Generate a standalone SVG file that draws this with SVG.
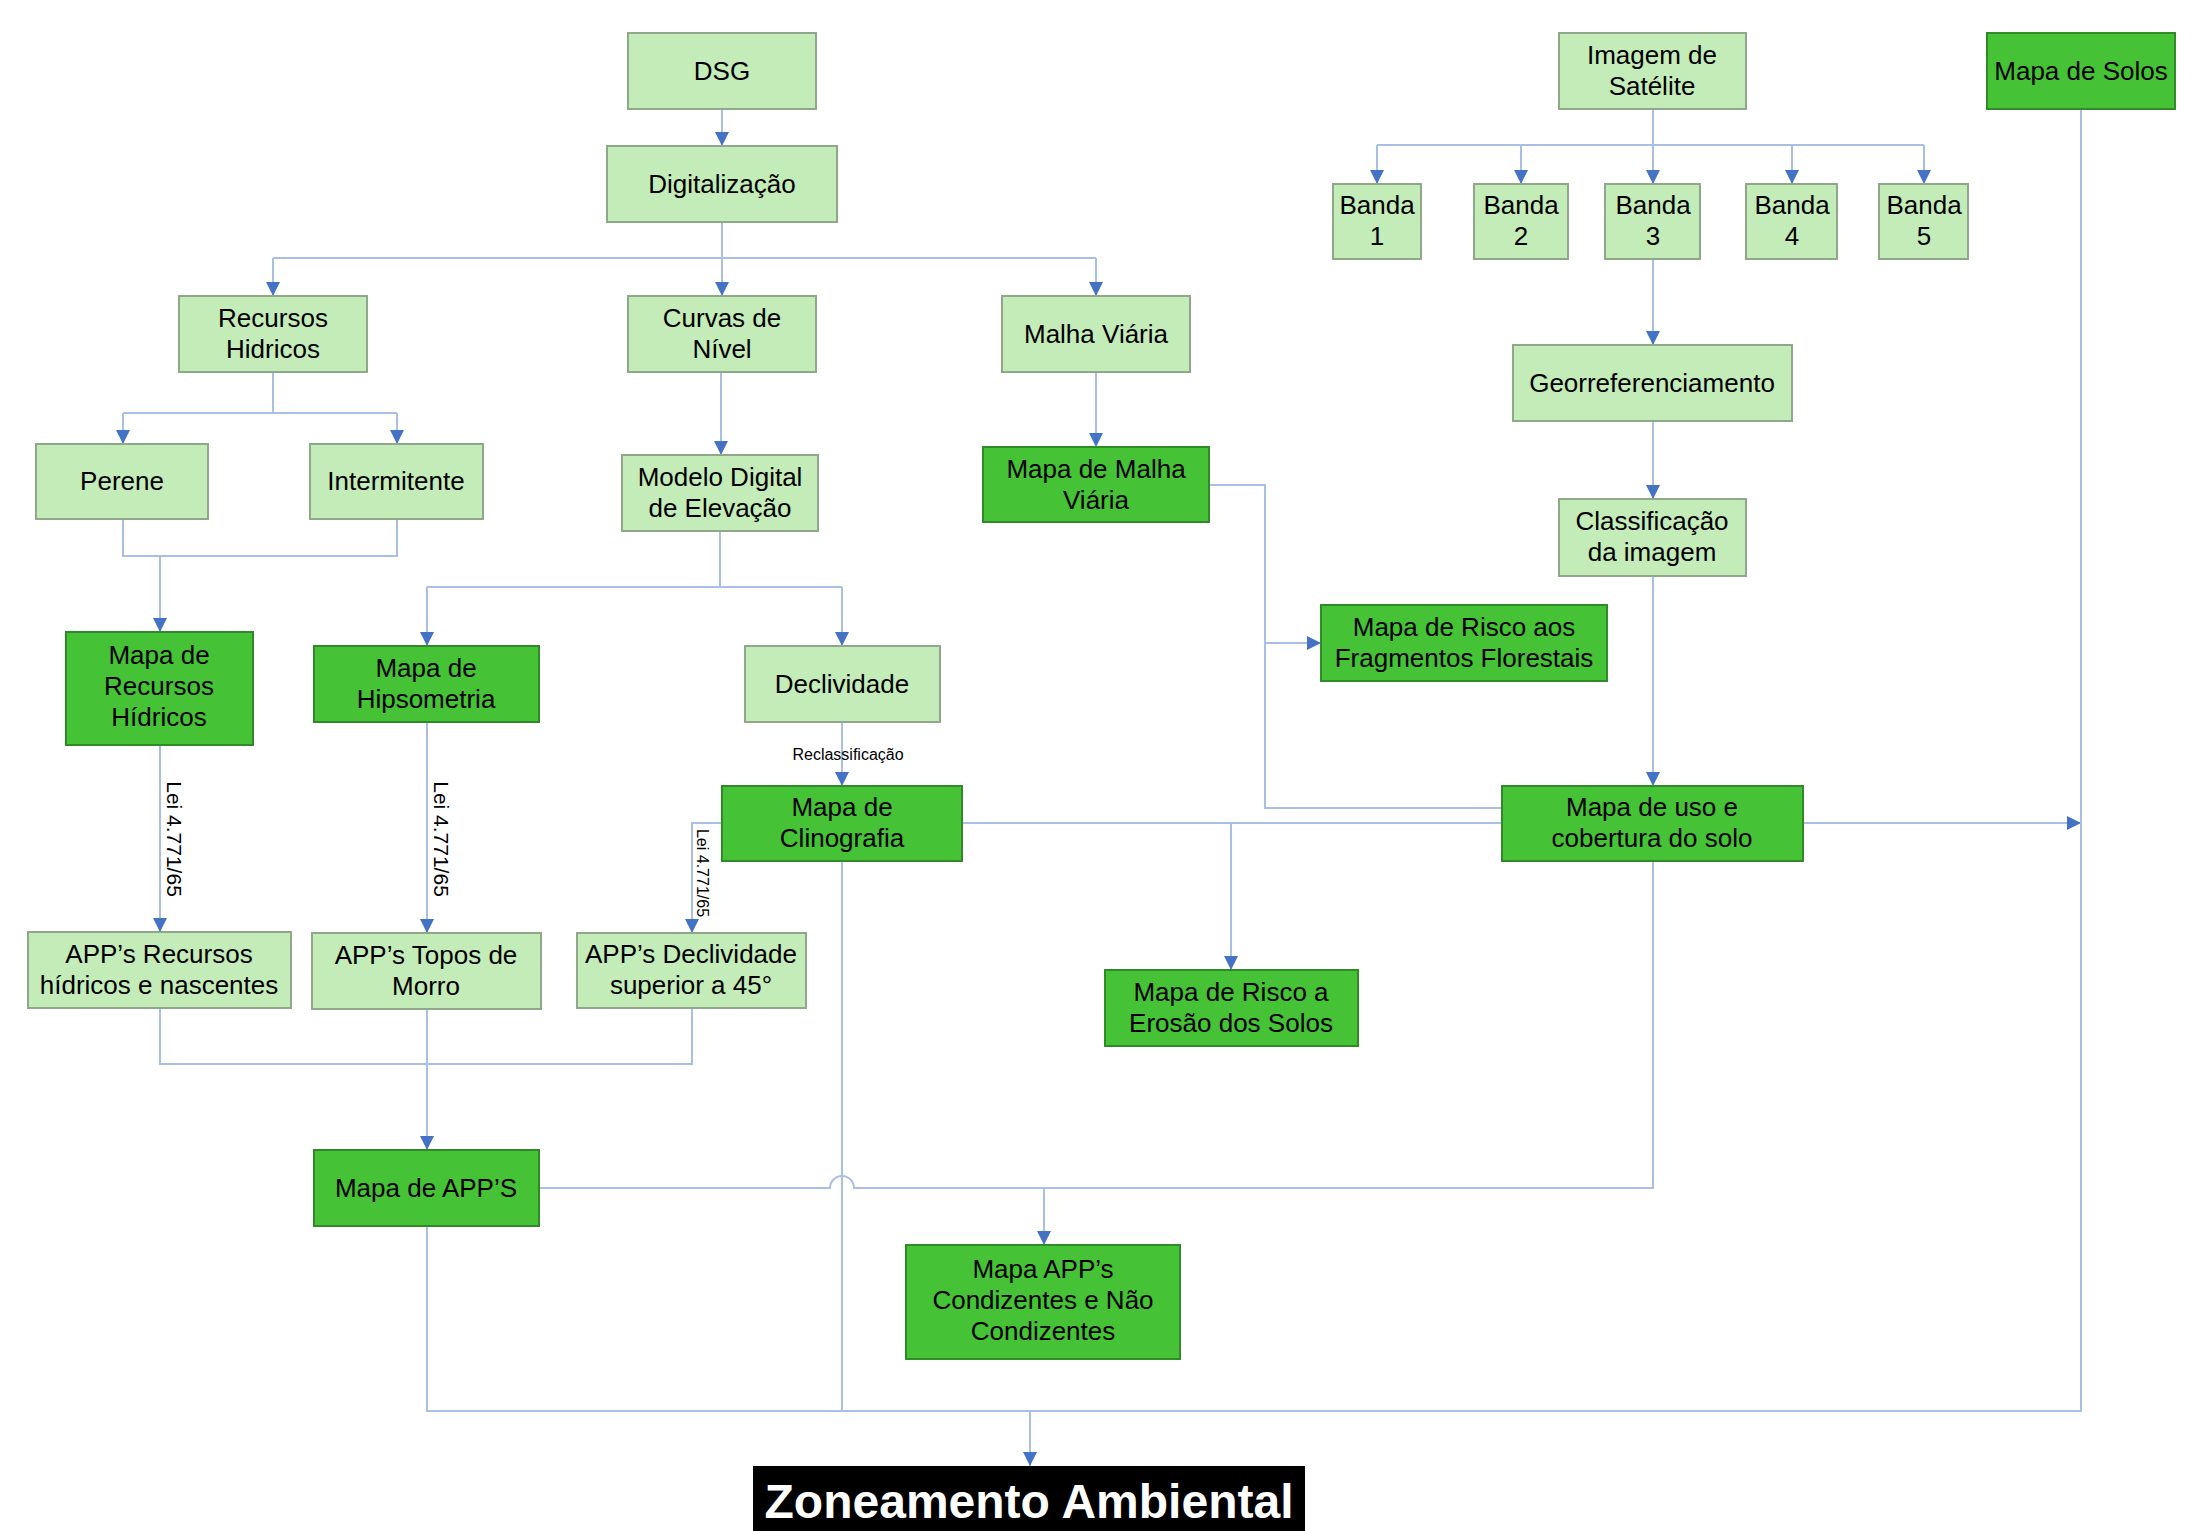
<svg xmlns="http://www.w3.org/2000/svg" width="2200" height="1531" viewBox="0 0 2200 1531">
<defs>
<style>
.l rect{fill:#c3ecb8;stroke:#8fa88a;stroke-width:2}
.d rect{fill:#45c235;stroke:#2f8a27;stroke-width:2}
text{font-family:"Liberation Sans",Arial,sans-serif;font-size:26px;fill:#000;text-anchor:middle}
.c path{fill:none;stroke:#a9bfe3;stroke-width:2}
.c .a{marker-end:url(#ah)}
.lab{font-size:21px}
.sm{font-size:16px}
</style>
<marker id="ah" viewBox="0 0 14 14" refX="14" refY="7" markerWidth="14" markerHeight="14" markerUnits="userSpaceOnUse" orient="auto"><path d="M0,0 L14,7 L0,14 z" fill="#4472c4"/></marker>
</defs>
<rect width="2200" height="1531" fill="#ffffff"/>

<g id="connectors" class="c">
<path class="a" d="M722,109 V146"/>
<path d="M722,222 V258 M273,258 H1096"/>
<path class="a" d="M273,258 V296"/>
<path class="a" d="M722,258 V296"/>
<path class="a" d="M1096,258 V296"/>
<path d="M273,372 V413 M123,413 H397"/>
<path class="a" d="M123,413 V444"/>
<path class="a" d="M397,413 V444"/>
<path d="M123,519 V556 H397 V519"/>
<path class="a" d="M160,556 V632"/>
<path class="a" d="M721,372 V455"/>
<path d="M720,531 V587 M427,587 H842"/>
<path class="a" d="M427,587 V646"/>
<path class="a" d="M842,587 V646"/>
<path class="a" d="M842,722 V786"/>
<path class="a" d="M160,745 V932"/>
<path class="a" d="M427,722 V933"/>
<path class="a" d="M722,823 H692 V933"/>
<path d="M160,1008 V1064 H692 V1008"/>
<path class="a" d="M427,1009 V1150"/>
<path class="a" d="M1096,372 V447"/>
<path d="M1209,485 H1265 V808 H1502"/>
<path class="a" d="M1265,643 H1321"/>
<path d="M1653,109 V145 M1377,145 H1924"/>
<path class="a" d="M1377,145 V184"/>
<path class="a" d="M1521,145 V184"/>
<path class="a" d="M1653,145 V184"/>
<path class="a" d="M1792,145 V184"/>
<path class="a" d="M1924,145 V184"/>
<path class="a" d="M1653,259 V345"/>
<path class="a" d="M1653,421 V499"/>
<path class="a" d="M1653,576 V786"/>
<path d="M962,823 H1502"/>
<path class="a" d="M1231,823 V970"/>
<path class="a" d="M1803,823 H2081"/>
<path d="M1653,861 V1188 H854 A12,12 0 0 0 830,1188 H539"/>
<path class="a" d="M1044,1188 V1245"/>
<path d="M842,861 V1411"/>
<path d="M427,1226 V1411 H2081 V109"/>
<path class="a" d="M1030,1411 V1466"/>
</g>

<g id="labels">
<text class="sm" x="848" y="760">Reclassificação</text>
<text class="lab" transform="translate(167,839) rotate(90)">Lei 4.771/65</text>
<text class="lab" transform="translate(434,839) rotate(90)">Lei 4.771/65</text>
<text class="sm" transform="translate(697,873) rotate(90)">Lei 4.771/65</text>
</g>

<g id="dsg" class="l"><rect x="628" y="33" width="188" height="76"/><text x="722" y="80">DSG</text></g>
<g id="digitalizacao" class="l"><rect x="607" y="146" width="230" height="76"/><text x="722" y="193">Digitalização</text></g>
<g id="recursos-hidricos" class="l"><rect x="179" y="296" width="188" height="76"/><text x="273" y="327">Recursos</text><text x="273" y="358">Hidricos</text></g>
<g id="curvas-nivel" class="l"><rect x="628" y="296" width="188" height="76"/><text x="722" y="327">Curvas de</text><text x="722" y="358">Nível</text></g>
<g id="malha-viaria" class="l"><rect x="1002" y="296" width="188" height="76"/><text x="1096" y="343">Malha Viária</text></g>
<g id="perene" class="l"><rect x="36" y="444" width="172" height="75"/><text x="122" y="490">Perene</text></g>
<g id="intermitente" class="l"><rect x="310" y="444" width="173" height="75"/><text x="396" y="490">Intermitente</text></g>
<g id="modelo-digital" class="l"><rect x="622" y="455" width="196" height="76"/><text x="720" y="486">Modelo Digital</text><text x="720" y="517">de Elevação</text></g>
<g id="mapa-malha-viaria" class="d"><rect x="983" y="447" width="226" height="75"/><text x="1096" y="478">Mapa de Malha</text><text x="1096" y="509">Viária</text></g>
<g id="imagem-satelite" class="l"><rect x="1559" y="33" width="187" height="76"/><text x="1652" y="64">Imagem de</text><text x="1652" y="95">Satélite</text></g>
<g id="mapa-solos" class="d"><rect x="1987" y="33" width="188" height="76"/><text x="2081" y="80">Mapa de Solos</text></g>
<g id="banda1" class="l"><rect x="1333" y="184" width="88" height="75"/><text x="1377" y="214">Banda</text><text x="1377" y="245">1</text></g>
<g id="banda2" class="l"><rect x="1474" y="184" width="94" height="75"/><text x="1521" y="214">Banda</text><text x="1521" y="245">2</text></g>
<g id="banda3" class="l"><rect x="1605" y="184" width="95" height="75"/><text x="1653" y="214">Banda</text><text x="1653" y="245">3</text></g>
<g id="banda4" class="l"><rect x="1746" y="184" width="91" height="75"/><text x="1792" y="214">Banda</text><text x="1792" y="245">4</text></g>
<g id="banda5" class="l"><rect x="1879" y="184" width="89" height="75"/><text x="1924" y="214">Banda</text><text x="1924" y="245">5</text></g>
<g id="georreferenciamento" class="l"><rect x="1513" y="345" width="279" height="76"/><text x="1652" y="392">Georreferenciamento</text></g>
<g id="classificacao" class="l"><rect x="1559" y="499" width="187" height="77"/><text x="1652" y="530">Classificação</text><text x="1652" y="561">da imagem</text></g>
<g id="risco-fragmentos" class="d"><rect x="1321" y="605" width="286" height="76"/><text x="1464" y="636">Mapa de Risco aos</text><text x="1464" y="667">Fragmentos Florestais</text></g>
<g id="mapa-recursos-hidricos" class="d"><rect x="66" y="632" width="187" height="113"/><text x="159" y="664">Mapa de</text><text x="159" y="695">Recursos</text><text x="159" y="726">Hídricos</text></g>
<g id="mapa-hipsometria" class="d"><rect x="314" y="646" width="225" height="76"/><text x="426" y="677">Mapa de</text><text x="426" y="708">Hipsometria</text></g>
<g id="declividade" class="l"><rect x="745" y="646" width="195" height="76"/><text x="842" y="693">Declividade</text></g>
<g id="mapa-clinografia" class="d"><rect x="722" y="786" width="240" height="75"/><text x="842" y="816">Mapa de</text><text x="842" y="847">Clinografia</text></g>
<g id="mapa-uso-solo" class="d"><rect x="1502" y="786" width="301" height="75"/><text x="1652" y="816">Mapa de uso e</text><text x="1652" y="847">cobertura do solo</text></g>
<g id="risco-erosao" class="d"><rect x="1105" y="970" width="253" height="76"/><text x="1231" y="1001">Mapa de Risco a</text><text x="1231" y="1032">Erosão dos Solos</text></g>
<g id="app-recursos" class="l"><rect x="28" y="932" width="263" height="76"/><text x="159" y="963">APP’s Recursos</text><text x="159" y="994">hídricos e nascentes</text></g>
<g id="app-topos" class="l"><rect x="312" y="933" width="229" height="76"/><text x="426" y="964">APP’s Topos de</text><text x="426" y="995">Morro</text></g>
<g id="app-declividade" class="l"><rect x="577" y="933" width="229" height="75"/><text x="691" y="963">APP’s Declividade</text><text x="691" y="994">superior a 45°</text></g>
<g id="mapa-apps" class="d"><rect x="314" y="1150" width="225" height="76"/><text x="426" y="1197">Mapa de APP’S</text></g>
<g id="mapa-apps-condizentes" class="d"><rect x="906" y="1245" width="274" height="114"/><text x="1043" y="1278">Mapa APP’s</text><text x="1043" y="1309">Condizentes e Não</text><text x="1043" y="1340">Condizentes</text></g>
<g id="zoneamento"><rect x="753" y="1466" width="552" height="70" fill="#000"/><text x="1029" y="1518" style="font-size:48px;font-weight:bold;fill:#fff">Zoneamento Ambiental</text></g>
</svg>
